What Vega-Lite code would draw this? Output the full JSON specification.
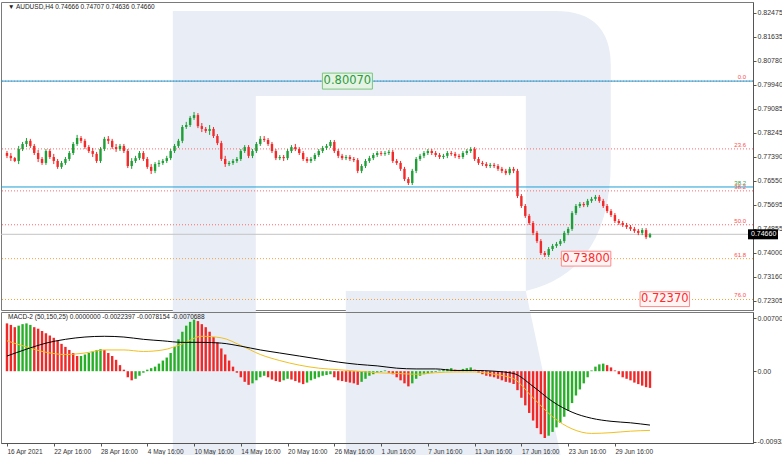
{
"$schema": "https://vega.github.io/schema/vega-lite/v6.json",
"background": "white",
"padding": {"left": 0, "top": 1, "right": 0, "bottom": 0},
"spacing": 2,
"bounds": "flush",
"config": {
  "view": {"stroke": "#7a7a7a", "strokeWidth": 1},
  "font": "Liberation Sans",
  "axis": {"grid": false, "title": null, "labelOverlap": false, "labelBound": false, "labelFont": "Liberation Sans", "labelFontSize": 7, "labelColor": "#333333", "domainColor": "#555555", "tickColor": "#555555", "tickSize": 3}
},
"datasets": {
  "c": [{"i":0,"o":0.7753,"h":0.7760,"l":0.7735,"c":0.7743},{"i":2,"o":0.7743,"h":0.7753,"l":0.7725,"c":0.7735},{"i":4,"o":0.7735,"h":0.7739,"l":0.7721,"c":0.7725},{"i":6,"o":0.7725,"h":0.7778,"l":0.7714,"c":0.7767},{"i":8,"o":0.7767,"h":0.7792,"l":0.7760,"c":0.7785},{"i":10,"o":0.7785,"h":0.7806,"l":0.7774,"c":0.7796},{"i":12,"o":0.7796,"h":0.7803,"l":0.7771,"c":0.7778},{"i":14,"o":0.7778,"h":0.7785,"l":0.7746,"c":0.7753},{"i":16,"o":0.7753,"h":0.7764,"l":0.7721,"c":0.7732},{"i":18,"o":0.7732,"h":0.7739,"l":0.7711,"c":0.7718},{"i":20,"o":0.7718,"h":0.7767,"l":0.7711,"c":0.7760},{"i":22,"o":0.7760,"h":0.7767,"l":0.7732,"c":0.7739},{"i":24,"o":0.7739,"h":0.7750,"l":0.7714,"c":0.7725},{"i":26,"o":0.7725,"h":0.7732,"l":0.7697,"c":0.7704},{"i":28,"o":0.7704,"h":0.7725,"l":0.7697,"c":0.7718},{"i":30,"o":0.7718,"h":0.7739,"l":0.7711,"c":0.7732},{"i":32,"o":0.7732,"h":0.7760,"l":0.7725,"c":0.7753},{"i":34,"o":0.7753,"h":0.7792,"l":0.7746,"c":0.7785},{"i":36,"o":0.7785,"h":0.7817,"l":0.7778,"c":0.7806},{"i":38,"o":0.7806,"h":0.7813,"l":0.7788,"c":0.7796},{"i":40,"o":0.7796,"h":0.7803,"l":0.7767,"c":0.7774},{"i":42,"o":0.7774,"h":0.7781,"l":0.7753,"c":0.7760},{"i":44,"o":0.7760,"h":0.7771,"l":0.7739,"c":0.7750},{"i":46,"o":0.7750,"h":0.7757,"l":0.7718,"c":0.7725},{"i":48,"o":0.7725,"h":0.7774,"l":0.7718,"c":0.7767},{"i":50,"o":0.7767,"h":0.7810,"l":0.7760,"c":0.7803},{"i":52,"o":0.7803,"h":0.7813,"l":0.7785,"c":0.7796},{"i":54,"o":0.7796,"h":0.7803,"l":0.7767,"c":0.7774},{"i":56,"o":0.7774,"h":0.7785,"l":0.7757,"c":0.7767},{"i":58,"o":0.7767,"h":0.7785,"l":0.7760,"c":0.7778},{"i":60,"o":0.7778,"h":0.7785,"l":0.7753,"c":0.7760},{"i":62,"o":0.7760,"h":0.7767,"l":0.7700,"c":0.7707},{"i":64,"o":0.7707,"h":0.7735,"l":0.7697,"c":0.7725},{"i":66,"o":0.7725,"h":0.7743,"l":0.7718,"c":0.7735},{"i":68,"o":0.7735,"h":0.7760,"l":0.7728,"c":0.7753},{"i":70,"o":0.7753,"h":0.7760,"l":0.7725,"c":0.7732},{"i":72,"o":0.7732,"h":0.7739,"l":0.7697,"c":0.7704},{"i":74,"o":0.7704,"h":0.7714,"l":0.7679,"c":0.7690},{"i":76,"o":0.7690,"h":0.7721,"l":0.7682,"c":0.7714},{"i":78,"o":0.7714,"h":0.7728,"l":0.7704,"c":0.7718},{"i":80,"o":0.7718,"h":0.7732,"l":0.7711,"c":0.7725},{"i":82,"o":0.7725,"h":0.7743,"l":0.7718,"c":0.7735},{"i":84,"o":0.7735,"h":0.7767,"l":0.7728,"c":0.7760},{"i":86,"o":0.7760,"h":0.7785,"l":0.7753,"c":0.7778},{"i":88,"o":0.7778,"h":0.7803,"l":0.7771,"c":0.7796},{"i":90,"o":0.7796,"h":0.7852,"l":0.7788,"c":0.7845},{"i":92,"o":0.7845,"h":0.7863,"l":0.7838,"c":0.7852},{"i":94,"o":0.7852,"h":0.7884,"l":0.7845,"c":0.7877},{"i":96,"o":0.7877,"h":0.7898,"l":0.7870,"c":0.7887},{"i":98,"o":0.7887,"h":0.7894,"l":0.7841,"c":0.7848},{"i":100,"o":0.7848,"h":0.7859,"l":0.7827,"c":0.7838},{"i":102,"o":0.7838,"h":0.7845,"l":0.7824,"c":0.7831},{"i":104,"o":0.7831,"h":0.7852,"l":0.7817,"c":0.7838},{"i":106,"o":0.7838,"h":0.7845,"l":0.7806,"c":0.7813},{"i":108,"o":0.7813,"h":0.7820,"l":0.7781,"c":0.7788},{"i":110,"o":0.7788,"h":0.7796,"l":0.7725,"c":0.7732},{"i":112,"o":0.7732,"h":0.7743,"l":0.7704,"c":0.7714},{"i":114,"o":0.7714,"h":0.7725,"l":0.7707,"c":0.7718},{"i":116,"o":0.7718,"h":0.7732,"l":0.7711,"c":0.7725},{"i":118,"o":0.7725,"h":0.7739,"l":0.7718,"c":0.7732},{"i":120,"o":0.7732,"h":0.7767,"l":0.7725,"c":0.7760},{"i":122,"o":0.7760,"h":0.7781,"l":0.7753,"c":0.7774},{"i":124,"o":0.7774,"h":0.7781,"l":0.7735,"c":0.7743},{"i":126,"o":0.7743,"h":0.7767,"l":0.7735,"c":0.7760},{"i":128,"o":0.7760,"h":0.7792,"l":0.7753,"c":0.7785},{"i":130,"o":0.7785,"h":0.7813,"l":0.7778,"c":0.7803},{"i":132,"o":0.7803,"h":0.7813,"l":0.7792,"c":0.7799},{"i":134,"o":0.7799,"h":0.7806,"l":0.7778,"c":0.7785},{"i":136,"o":0.7785,"h":0.7792,"l":0.7753,"c":0.7760},{"i":138,"o":0.7760,"h":0.7767,"l":0.7728,"c":0.7735},{"i":140,"o":0.7735,"h":0.7746,"l":0.7728,"c":0.7739},{"i":142,"o":0.7739,"h":0.7746,"l":0.7725,"c":0.7735},{"i":144,"o":0.7735,"h":0.7767,"l":0.7728,"c":0.7760},{"i":146,"o":0.7760,"h":0.7781,"l":0.7753,"c":0.7774},{"i":148,"o":0.7774,"h":0.7785,"l":0.7760,"c":0.7767},{"i":150,"o":0.7767,"h":0.7774,"l":0.7746,"c":0.7753},{"i":152,"o":0.7753,"h":0.7760,"l":0.7725,"c":0.7732},{"i":154,"o":0.7732,"h":0.7739,"l":0.7718,"c":0.7725},{"i":156,"o":0.7725,"h":0.7739,"l":0.7718,"c":0.7732},{"i":158,"o":0.7732,"h":0.7753,"l":0.7725,"c":0.7746},{"i":160,"o":0.7746,"h":0.7767,"l":0.7739,"c":0.7760},{"i":162,"o":0.7760,"h":0.7778,"l":0.7753,"c":0.7771},{"i":164,"o":0.7771,"h":0.7785,"l":0.7764,"c":0.7778},{"i":166,"o":0.7778,"h":0.7799,"l":0.7771,"c":0.7792},{"i":168,"o":0.7792,"h":0.7799,"l":0.7753,"c":0.7760},{"i":170,"o":0.7760,"h":0.7767,"l":0.7735,"c":0.7743},{"i":172,"o":0.7743,"h":0.7750,"l":0.7728,"c":0.7735},{"i":174,"o":0.7735,"h":0.7746,"l":0.7728,"c":0.7739},{"i":176,"o":0.7739,"h":0.7746,"l":0.7725,"c":0.7732},{"i":178,"o":0.7732,"h":0.7739,"l":0.7721,"c":0.7728},{"i":180,"o":0.7728,"h":0.7735,"l":0.7682,"c":0.7690},{"i":182,"o":0.7690,"h":0.7714,"l":0.7682,"c":0.7707},{"i":184,"o":0.7707,"h":0.7732,"l":0.7700,"c":0.7725},{"i":186,"o":0.7725,"h":0.7743,"l":0.7718,"c":0.7735},{"i":188,"o":0.7735,"h":0.7753,"l":0.7728,"c":0.7746},{"i":190,"o":0.7746,"h":0.7760,"l":0.7739,"c":0.7753},{"i":192,"o":0.7753,"h":0.7760,"l":0.7743,"c":0.7750},{"i":194,"o":0.7750,"h":0.7760,"l":0.7743,"c":0.7753},{"i":196,"o":0.7753,"h":0.7764,"l":0.7746,"c":0.7757},{"i":198,"o":0.7757,"h":0.7764,"l":0.7718,"c":0.7725},{"i":200,"o":0.7725,"h":0.7732,"l":0.7711,"c":0.7718},{"i":202,"o":0.7718,"h":0.7725,"l":0.7690,"c":0.7697},{"i":204,"o":0.7697,"h":0.7704,"l":0.7654,"c":0.7661},{"i":206,"o":0.7661,"h":0.7668,"l":0.7640,"c":0.7647},{"i":208,"o":0.7647,"h":0.7697,"l":0.7640,"c":0.7690},{"i":210,"o":0.7690,"h":0.7739,"l":0.7682,"c":0.7732},{"i":212,"o":0.7732,"h":0.7750,"l":0.7725,"c":0.7743},{"i":214,"o":0.7743,"h":0.7760,"l":0.7735,"c":0.7753},{"i":216,"o":0.7753,"h":0.7767,"l":0.7746,"c":0.7760},{"i":218,"o":0.7760,"h":0.7767,"l":0.7746,"c":0.7753},{"i":220,"o":0.7753,"h":0.7760,"l":0.7739,"c":0.7746},{"i":222,"o":0.7746,"h":0.7753,"l":0.7732,"c":0.7739},{"i":224,"o":0.7739,"h":0.7750,"l":0.7732,"c":0.7743},{"i":226,"o":0.7743,"h":0.7760,"l":0.7735,"c":0.7753},{"i":228,"o":0.7753,"h":0.7760,"l":0.7743,"c":0.7750},{"i":230,"o":0.7750,"h":0.7757,"l":0.7735,"c":0.7743},{"i":232,"o":0.7743,"h":0.7750,"l":0.7732,"c":0.7739},{"i":234,"o":0.7739,"h":0.7760,"l":0.7732,"c":0.7753},{"i":236,"o":0.7753,"h":0.7767,"l":0.7746,"c":0.7760},{"i":238,"o":0.7760,"h":0.7774,"l":0.7753,"c":0.7767},{"i":240,"o":0.7767,"h":0.7774,"l":0.7725,"c":0.7732},{"i":242,"o":0.7732,"h":0.7739,"l":0.7711,"c":0.7718},{"i":244,"o":0.7718,"h":0.7725,"l":0.7707,"c":0.7714},{"i":246,"o":0.7714,"h":0.7721,"l":0.7700,"c":0.7707},{"i":248,"o":0.7707,"h":0.7718,"l":0.7700,"c":0.7711},{"i":250,"o":0.7711,"h":0.7718,"l":0.7700,"c":0.7707},{"i":252,"o":0.7707,"h":0.7714,"l":0.7690,"c":0.7697},{"i":254,"o":0.7697,"h":0.7704,"l":0.7682,"c":0.7690},{"i":256,"o":0.7690,"h":0.7697,"l":0.7675,"c":0.7682},{"i":258,"o":0.7682,"h":0.7704,"l":0.7675,"c":0.7697},{"i":260,"o":0.7697,"h":0.7704,"l":0.7682,"c":0.7690},{"i":262,"o":0.7690,"h":0.7697,"l":0.7594,"c":0.7601},{"i":264,"o":0.7601,"h":0.7608,"l":0.7559,"c":0.7566},{"i":266,"o":0.7566,"h":0.7573,"l":0.7524,"c":0.7531},{"i":268,"o":0.7531,"h":0.7538,"l":0.7499,"c":0.7506},{"i":270,"o":0.7506,"h":0.7513,"l":0.7463,"c":0.7471},{"i":272,"o":0.7471,"h":0.7478,"l":0.7435,"c":0.7442},{"i":274,"o":0.7442,"h":0.7449,"l":0.7393,"c":0.7400},{"i":276,"o":0.7400,"h":0.7407,"l":0.7386,"c":0.7393},{"i":278,"o":0.7393,"h":0.7421,"l":0.7386,"c":0.7414},{"i":280,"o":0.7414,"h":0.7432,"l":0.7407,"c":0.7425},{"i":282,"o":0.7425,"h":0.7439,"l":0.7418,"c":0.7432},{"i":284,"o":0.7432,"h":0.7449,"l":0.7425,"c":0.7442},{"i":286,"o":0.7442,"h":0.7478,"l":0.7435,"c":0.7471},{"i":288,"o":0.7471,"h":0.7492,"l":0.7463,"c":0.7485},{"i":290,"o":0.7485,"h":0.7548,"l":0.7478,"c":0.7541},{"i":292,"o":0.7541,"h":0.7573,"l":0.7534,"c":0.7566},{"i":294,"o":0.7566,"h":0.7580,"l":0.7559,"c":0.7573},{"i":296,"o":0.7573,"h":0.7580,"l":0.7562,"c":0.7569},{"i":298,"o":0.7569,"h":0.7591,"l":0.7562,"c":0.7584},{"i":300,"o":0.7584,"h":0.7598,"l":0.7577,"c":0.7591},{"i":302,"o":0.7591,"h":0.7605,"l":0.7584,"c":0.7598},{"i":304,"o":0.7598,"h":0.7605,"l":0.7577,"c":0.7584},{"i":306,"o":0.7584,"h":0.7591,"l":0.7559,"c":0.7566},{"i":308,"o":0.7566,"h":0.7573,"l":0.7541,"c":0.7548},{"i":310,"o":0.7548,"h":0.7555,"l":0.7527,"c":0.7534},{"i":312,"o":0.7534,"h":0.7541,"l":0.7506,"c":0.7513},{"i":314,"o":0.7513,"h":0.7520,"l":0.7499,"c":0.7506},{"i":316,"o":0.7506,"h":0.7513,"l":0.7492,"c":0.7499},{"i":318,"o":0.7499,"h":0.7506,"l":0.7485,"c":0.7492},{"i":320,"o":0.7492,"h":0.7499,"l":0.7478,"c":0.7485},{"i":322,"o":0.7485,"h":0.7492,"l":0.7471,"c":0.7478},{"i":324,"o":0.7478,"h":0.7485,"l":0.7463,"c":0.7471},{"i":326,"o":0.7471,"h":0.7488,"l":0.7463,"c":0.7481},{"i":328,"o":0.7481,"h":0.7488,"l":0.7449,"c":0.7456},{"i":330,"o":0.7456,"h":0.7471,"l":0.7453,"c":0.7466}],
  "hist": [{"i":0,"m":0.0063,"d":"d"},{"i":2,"m":0.0061,"d":"d"},{"i":4,"m":0.0058,"d":"d"},{"i":6,"m":0.0060,"d":"u"},{"i":8,"m":0.0062,"d":"u"},{"i":10,"m":0.0063,"d":"u"},{"i":12,"m":0.0061,"d":"u"},{"i":14,"m":0.0058,"d":"d"},{"i":16,"m":0.0056,"d":"d"},{"i":18,"m":0.0053,"d":"d"},{"i":20,"m":0.0050,"d":"d"},{"i":22,"m":0.0047,"d":"d"},{"i":24,"m":0.0044,"d":"d"},{"i":26,"m":0.0040,"d":"d"},{"i":28,"m":0.0036,"d":"d"},{"i":30,"m":0.0032,"d":"d"},{"i":32,"m":0.0028,"d":"d"},{"i":34,"m":0.0024,"d":"d"},{"i":36,"m":0.0020,"d":"d"},{"i":38,"m":0.0020,"d":"u"},{"i":40,"m":0.0022,"d":"u"},{"i":42,"m":0.0024,"d":"u"},{"i":44,"m":0.0026,"d":"u"},{"i":46,"m":0.0028,"d":"u"},{"i":48,"m":0.0029,"d":"u"},{"i":50,"m":0.0028,"d":"d"},{"i":52,"m":0.0024,"d":"d"},{"i":54,"m":0.0020,"d":"d"},{"i":56,"m":0.0015,"d":"d"},{"i":58,"m":0.0008,"d":"d"},{"i":60,"m":0.0002,"d":"d"},{"i":62,"m":-0.0008,"d":"d"},{"i":64,"m":-0.0012,"d":"d"},{"i":66,"m":-0.0010,"d":"u"},{"i":68,"m":-0.0006,"d":"u"},{"i":70,"m":-0.0002,"d":"u"},{"i":72,"m":0.0002,"d":"u"},{"i":74,"m":0.0004,"d":"u"},{"i":76,"m":0.0006,"d":"u"},{"i":78,"m":0.0010,"d":"u"},{"i":80,"m":0.0014,"d":"u"},{"i":82,"m":0.0018,"d":"u"},{"i":84,"m":0.0024,"d":"u"},{"i":86,"m":0.0032,"d":"u"},{"i":88,"m":0.0042,"d":"u"},{"i":90,"m":0.0052,"d":"u"},{"i":92,"m":0.0060,"d":"u"},{"i":94,"m":0.0065,"d":"u"},{"i":96,"m":0.0068,"d":"u"},{"i":98,"m":0.0066,"d":"d"},{"i":100,"m":0.0062,"d":"d"},{"i":102,"m":0.0058,"d":"d"},{"i":104,"m":0.0052,"d":"d"},{"i":106,"m":0.0045,"d":"d"},{"i":108,"m":0.0038,"d":"d"},{"i":110,"m":0.0030,"d":"d"},{"i":112,"m":0.0022,"d":"d"},{"i":114,"m":0.0014,"d":"d"},{"i":116,"m":0.0006,"d":"d"},{"i":118,"m":-0.0002,"d":"d"},{"i":120,"m":-0.0008,"d":"d"},{"i":122,"m":-0.0014,"d":"d"},{"i":124,"m":-0.0018,"d":"d"},{"i":126,"m":-0.0016,"d":"u"},{"i":128,"m":-0.0012,"d":"u"},{"i":130,"m":-0.0008,"d":"u"},{"i":132,"m":-0.0006,"d":"u"},{"i":134,"m":-0.0008,"d":"d"},{"i":136,"m":-0.0011,"d":"d"},{"i":138,"m":-0.0013,"d":"d"},{"i":140,"m":-0.0014,"d":"d"},{"i":142,"m":-0.0012,"d":"u"},{"i":144,"m":-0.0010,"d":"u"},{"i":146,"m":-0.0011,"d":"d"},{"i":148,"m":-0.0013,"d":"d"},{"i":150,"m":-0.0015,"d":"d"},{"i":152,"m":-0.0017,"d":"d"},{"i":154,"m":-0.0015,"d":"u"},{"i":156,"m":-0.0012,"d":"u"},{"i":158,"m":-0.0010,"d":"u"},{"i":160,"m":-0.0008,"d":"u"},{"i":162,"m":-0.0006,"d":"u"},{"i":164,"m":-0.0005,"d":"u"},{"i":166,"m":-0.0004,"d":"u"},{"i":168,"m":-0.0008,"d":"d"},{"i":170,"m":-0.0012,"d":"d"},{"i":172,"m":-0.0013,"d":"d"},{"i":174,"m":-0.0014,"d":"d"},{"i":176,"m":-0.0015,"d":"d"},{"i":178,"m":-0.0016,"d":"d"},{"i":180,"m":-0.0018,"d":"d"},{"i":182,"m":-0.0014,"d":"u"},{"i":184,"m":-0.0010,"d":"u"},{"i":186,"m":-0.0006,"d":"u"},{"i":188,"m":-0.0004,"d":"u"},{"i":190,"m":-0.0002,"d":"u"},{"i":192,"m":-0.0001,"d":"u"},{"i":194,"m":0.0001,"d":"u"},{"i":196,"m":-0.0002,"d":"d"},{"i":198,"m":-0.0004,"d":"d"},{"i":200,"m":-0.0008,"d":"d"},{"i":202,"m":-0.0012,"d":"d"},{"i":204,"m":-0.0016,"d":"d"},{"i":206,"m":-0.0020,"d":"d"},{"i":208,"m":-0.0016,"d":"u"},{"i":210,"m":-0.0010,"d":"u"},{"i":212,"m":-0.0006,"d":"u"},{"i":214,"m":-0.0004,"d":"u"},{"i":216,"m":-0.0003,"d":"u"},{"i":218,"m":-0.0002,"d":"u"},{"i":220,"m":-0.0001,"d":"u"},{"i":222,"m":0.0001,"d":"u"},{"i":224,"m":0.0002,"d":"u"},{"i":226,"m":0.0003,"d":"u"},{"i":228,"m":0.0004,"d":"u"},{"i":230,"m":0.0002,"d":"d"},{"i":232,"m":0.0001,"d":"d"},{"i":234,"m":0.0003,"d":"u"},{"i":236,"m":0.0004,"d":"u"},{"i":238,"m":0.0005,"d":"u"},{"i":240,"m":0.0002,"d":"d"},{"i":242,"m":-0.0002,"d":"d"},{"i":244,"m":-0.0004,"d":"d"},{"i":246,"m":-0.0006,"d":"d"},{"i":248,"m":-0.0007,"d":"d"},{"i":250,"m":-0.0008,"d":"d"},{"i":252,"m":-0.0010,"d":"d"},{"i":254,"m":-0.0012,"d":"d"},{"i":256,"m":-0.0014,"d":"d"},{"i":258,"m":-0.0015,"d":"d"},{"i":260,"m":-0.0017,"d":"d"},{"i":262,"m":-0.0025,"d":"d"},{"i":264,"m":-0.0035,"d":"d"},{"i":266,"m":-0.0045,"d":"d"},{"i":268,"m":-0.0055,"d":"d"},{"i":270,"m":-0.0065,"d":"d"},{"i":272,"m":-0.0075,"d":"d"},{"i":274,"m":-0.0083,"d":"d"},{"i":276,"m":-0.0088,"d":"d"},{"i":278,"m":-0.0085,"d":"u"},{"i":280,"m":-0.0080,"d":"u"},{"i":282,"m":-0.0074,"d":"u"},{"i":284,"m":-0.0068,"d":"u"},{"i":286,"m":-0.0060,"d":"u"},{"i":288,"m":-0.0052,"d":"u"},{"i":290,"m":-0.0042,"d":"u"},{"i":292,"m":-0.0032,"d":"u"},{"i":294,"m":-0.0024,"d":"u"},{"i":296,"m":-0.0016,"d":"u"},{"i":298,"m":-0.0008,"d":"u"},{"i":300,"m":0.0001,"d":"u"},{"i":302,"m":0.0006,"d":"u"},{"i":304,"m":0.0009,"d":"u"},{"i":306,"m":0.0010,"d":"u"},{"i":308,"m":0.0008,"d":"d"},{"i":310,"m":0.0005,"d":"d"},{"i":312,"m":0.0001,"d":"d"},{"i":314,"m":-0.0004,"d":"d"},{"i":316,"m":-0.0008,"d":"d"},{"i":318,"m":-0.0010,"d":"d"},{"i":320,"m":-0.0012,"d":"d"},{"i":322,"m":-0.0015,"d":"d"},{"i":324,"m":-0.0017,"d":"d"},{"i":326,"m":-0.0019,"d":"d"},{"i":328,"m":-0.0021,"d":"d"},{"i":330,"m":-0.0022,"d":"d"}],
  "ln": [{"i":0,"k":0.0020,"s":0.0040},{"i":10,"k":0.0029,"s":0.0032},{"i":20,"k":0.0037,"s":0.0025},{"i":30,"k":0.0042,"s":0.0022},{"i":40,"k":0.0045,"s":0.0024},{"i":50,"k":0.0046,"s":0.0028},{"i":60,"k":0.0045,"s":0.0028},{"i":70,"k":0.0042,"s":0.0026},{"i":80,"k":0.0040,"s":0.0028},{"i":90,"k":0.0038,"s":0.0036},{"i":100,"k":0.0038,"s":0.0046},{"i":110,"k":0.0037,"s":0.0044},{"i":120,"k":0.0033,"s":0.0034},{"i":130,"k":0.0028,"s":0.0022},{"i":140,"k":0.0024,"s":0.0014},{"i":150,"k":0.0020,"s":0.0008},{"i":160,"k":0.0016,"s":0.0004},{"i":170,"k":0.0012,"s":0.0002},{"i":180,"k":0.0009,"s":0.0000},{"i":190,"k":0.0007,"s":-0.0002},{"i":200,"k":0.0004,"s":-0.0003},{"i":210,"k":0.0003,"s":-0.0004},{"i":220,"k":0.0003,"s":-0.0002},{"i":230,"k":0.0001,"s":-0.0001},{"i":240,"k":0.0001,"s":-0.0001},{"i":250,"k":0.0000,"s":-0.0004},{"i":260,"k":-0.0003,"s":-0.0010},{"i":270,"k":-0.0020,"s":-0.0035},{"i":280,"k":-0.0040,"s":-0.0060},{"i":290,"k":-0.0054,"s":-0.0076},{"i":300,"k":-0.0062,"s":-0.0082},{"i":310,"k":-0.0066,"s":-0.0081},{"i":320,"k":-0.0068,"s":-0.0079},{"i":330,"k":-0.0071,"s":-0.0078}],
  "fib": [{"lvl":"0.0","p":0.8007},{"lvl":"23.6","p":0.77676},{"lvl":"38.2","p":0.76194},{"lvl":"50.0","p":0.74997},{"lvl":"61.8","p":0.738},{"lvl":"76.0","p":0.72359}],
  "blue": [{"p":0.8007},{"p":0.76331}],
  "fib2": [{"lvl":"38.2","p":0.76331}],
  "last": [{"t":"0.74660","p":0.7466}],
  "tgtG": [{"t":"0.80070","p":0.8007}],
  "tgtR1": [{"t":"0.73800","p":0.738}],
  "tgtR2": [{"t":"0.72370","p":0.7237}],
  "head": [{"t":"▼ AUDUSD,H4  0.74666 0.74707 0.74636 0.74660"}],
  "head2": [{"t":"MACD-2 (50,150,25) 0.0000000 -0.0022397 -0.0078154 -0.0070688"}],
  "logo": [{"n":"R"}]
},
"vconcat": [
{
  "width": 752, "height": 308,
  "layer": [
    {"data": {"name": "logo"}, "mark": {"type": "point", "shape": "M-219,-222H-136V223H-219ZM-136,-222H164Q219,-222 219,-167V-72Q219,38 134,58V-137H-136ZM-46,58H134L169,223H-46Z", "size": 4, "filled": true, "fill": "#e9eef6", "strokeWidth": 0, "opacity": 1, "clip": false},
     "encoding": {
       "x": {"datum": 197.5, "type": "quantitative", "scale": {"domain": [-0.5, 380.3], "nice": false, "zero": false}, "axis": null},
       "y": {"datum": 0.74706, "type": "quantitative", "scale": {"domain": [0.71987, 0.82863], "nice": false, "zero": false}}}},
    {"data": {"name": "fib"}, "mark": {"type": "rule", "strokeDash": [1, 2], "strokeWidth": 1},
     "encoding": {"y": {"field": "p", "type": "quantitative", "scale": {"domain": [0.71987, 0.82863], "nice": false, "zero": false}},
       "color": {"condition": {"test": "datum.p < 0.745", "value": "#f2a03c"}, "value": "#ff6a6a"}}},
    {"data": {"name": "blue"}, "mark": {"type": "rule", "strokeWidth": 1, "color": "#1c9fd6"},
     "encoding": {"y": {"field": "p", "type": "quantitative", "scale": {"domain": [0.71987, 0.82863], "nice": false, "zero": false}}}},
    {"data": {"name": "last"}, "mark": {"type": "rule", "strokeWidth": 1, "color": "#c4c4c4"},
     "encoding": {"y": {"field": "p", "type": "quantitative", "scale": {"domain": [0.71987, 0.82863], "nice": false, "zero": false}}}},
    {"data": {"name": "c"}, "mark": {"type": "rule", "strokeWidth": 1},
     "encoding": {
       "x": {"field": "i", "type": "quantitative", "scale": {"domain": [-0.5, 380.3], "nice": false, "zero": false}, "axis": null},
       "y": {"field": "l", "type": "quantitative", "scale": {"domain": [0.71987, 0.82863], "nice": false, "zero": false},
             "axis": {"orient": "right", "title": null, "values": [0.82475, 0.81635, 0.8078, 0.7994, 0.79085, 0.78245, 0.7739, 0.7655, 0.75695, 0.74855, 0.74, 0.7316, 0.72305], "tickCount": 30, "format": ".5f", "tickSize": 3, "labelPadding": 1, "labelFontSize": 7, "labelOverlap": false, "labelBound": false, "grid": false}},
       "y2": {"field": "h"},
       "color": {"condition": {"test": "datum.c >= datum.o", "value": "#1e9e36"}, "value": "#f22a2a"}}},
    {"data": {"name": "c"}, "mark": {"type": "bar", "orient": "vertical", "width": 2.4},
     "encoding": {
       "x": {"field": "i", "type": "quantitative", "scale": {"domain": [-0.5, 380.3], "nice": false, "zero": false}, "axis": null},
       "y": {"field": "o", "type": "quantitative", "scale": {"domain": [0.71987, 0.82863], "nice": false, "zero": false}},
       "y2": {"field": "c"},
       "color": {"condition": {"test": "datum.c >= datum.o", "value": "#1e9e36"}, "value": "#f22a2a"}}},
    {"data": {"name": "fib"}, "mark": {"type": "text", "align": "right", "baseline": "bottom", "dx": -2, "dy": -1, "fontSize": 6, "color": "#ff4d4d"},
     "encoding": {
       "x": {"datum": 380.3, "type": "quantitative", "scale": {"domain": [-0.5, 380.3], "nice": false, "zero": false}, "axis": null},
       "y": {"field": "p", "type": "quantitative", "scale": {"domain": [0.71987, 0.82863], "nice": false, "zero": false}},
       "text": {"field": "lvl"}}},
    {"data": {"name": "fib2"}, "mark": {"type": "text", "align": "right", "baseline": "bottom", "dx": -2, "dy": -1, "fontSize": 6, "color": "#3a9a3a"},
     "encoding": {
       "x": {"datum": 380.3, "type": "quantitative", "scale": {"domain": [-0.5, 380.3], "nice": false, "zero": false}, "axis": null},
       "y": {"field": "p", "type": "quantitative", "scale": {"domain": [0.71987, 0.82863], "nice": false, "zero": false}},
       "text": {"field": "lvl"}}},
    {"data": {"name": "tgtG"}, "mark": {"type": "point", "shape": "M-1,-0.32H1V0.32H-1Z", "size": 2500, "filled": true, "fill": "#e4f3e4", "stroke": "#7cc47c", "strokeWidth": 1, "opacity": 1},
     "encoding": {
       "x": {"datum": 174.7, "type": "quantitative", "scale": {"domain": [-0.5, 380.3], "nice": false, "zero": false}, "axis": null},
       "y": {"field": "p", "type": "quantitative", "scale": {"domain": [0.71987, 0.82863], "nice": false, "zero": false}}}},
    {"data": {"name": "tgtG"}, "mark": {"type": "text", "fontSize": 11.5, "font": "DejaVu Sans", "color": "#2c9a3c", "baseline": "middle", "align": "center"},
     "encoding": {
       "x": {"datum": 174.7, "type": "quantitative", "scale": {"domain": [-0.5, 380.3], "nice": false, "zero": false}, "axis": null},
       "y": {"field": "p", "type": "quantitative", "scale": {"domain": [0.71987, 0.82863], "nice": false, "zero": false}},
       "text": {"field": "t"}}},
    {"data": {"name": "tgtR1"}, "mark": {"type": "point", "shape": "M-1,-0.3H1V0.3H-1Z", "size": 2450, "filled": true, "fill": "#fff4f4", "stroke": "#ff8a8a", "strokeWidth": 1, "opacity": 1},
     "encoding": {
       "x": {"datum": 297.2, "type": "quantitative", "scale": {"domain": [-0.5, 380.3], "nice": false, "zero": false}, "axis": null},
       "y": {"field": "p", "type": "quantitative", "scale": {"domain": [0.71987, 0.82863], "nice": false, "zero": false}}}},
    {"data": {"name": "tgtR1"}, "mark": {"type": "text", "fontSize": 11.5, "font": "DejaVu Sans", "color": "#ff2a2a", "baseline": "middle", "align": "center"},
     "encoding": {
       "x": {"datum": 297.2, "type": "quantitative", "scale": {"domain": [-0.5, 380.3], "nice": false, "zero": false}, "axis": null},
       "y": {"field": "p", "type": "quantitative", "scale": {"domain": [0.71987, 0.82863], "nice": false, "zero": false}},
       "text": {"field": "t"}}},
    {"data": {"name": "tgtR2"}, "mark": {"type": "point", "shape": "M-1,-0.3H1V0.3H-1Z", "size": 2450, "filled": true, "fill": "#fff4f4", "stroke": "#ff8a8a", "strokeWidth": 1, "opacity": 1},
     "encoding": {
       "x": {"datum": 337.6, "type": "quantitative", "scale": {"domain": [-0.5, 380.3], "nice": false, "zero": false}, "axis": null},
       "y": {"field": "p", "type": "quantitative", "scale": {"domain": [0.71987, 0.82863], "nice": false, "zero": false}}}},
    {"data": {"name": "tgtR2"}, "mark": {"type": "text", "fontSize": 11.5, "font": "DejaVu Sans", "color": "#ff2a2a", "baseline": "middle", "align": "center"},
     "encoding": {
       "x": {"datum": 337.6, "type": "quantitative", "scale": {"domain": [-0.5, 380.3], "nice": false, "zero": false}, "axis": null},
       "y": {"field": "p", "type": "quantitative", "scale": {"domain": [0.71987, 0.82863], "nice": false, "zero": false}},
       "text": {"field": "t"}}},
    {"data": {"name": "last"}, "mark": {"type": "point", "shape": "M0,-1H6V1H0Z", "size": 100, "filled": true, "fill": "#000000", "strokeWidth": 0, "opacity": 1, "clip": false},
     "encoding": {
       "x": {"datum": 380.3, "type": "quantitative", "scale": {"domain": [-0.5, 380.3], "nice": false, "zero": false}, "axis": null},
       "y": {"field": "p", "type": "quantitative", "scale": {"domain": [0.71987, 0.82863], "nice": false, "zero": false}}}},
    {"data": {"name": "last"}, "mark": {"type": "text", "align": "left", "baseline": "middle", "dx": 3, "fontSize": 7, "color": "#ffffff", "clip": false},
     "encoding": {
       "x": {"datum": 380.3, "type": "quantitative", "scale": {"domain": [-0.5, 380.3], "nice": false, "zero": false}, "axis": null},
       "y": {"field": "p", "type": "quantitative", "scale": {"domain": [0.71987, 0.82863], "nice": false, "zero": false}},
       "text": {"field": "t"}}},
    {"data": {"name": "head"}, "mark": {"type": "text", "align": "left", "baseline": "top", "dx": 2, "dy": 2, "fontSize": 6.5, "color": "#222222"},
     "encoding": {
       "x": {"datum": -0.5, "type": "quantitative", "scale": {"domain": [-0.5, 380.3], "nice": false, "zero": false}, "axis": null},
       "y": {"datum": 0.82863, "type": "quantitative", "scale": {"domain": [0.71987, 0.82863], "nice": false, "zero": false}},
       "text": {"field": "t"}}}
  ]
},
{
  "width": 752, "height": 131,
  "layer": [
    {"data": {"name": "hist"}, "mark": {"type": "bar", "orient": "vertical", "width": 2.4},
     "encoding": {
       "x": {"field": "i", "type": "quantitative", "scale": {"domain": [-0.5, 380.3], "nice": false, "zero": false},
             "axis": {"orient": "bottom", "title": null, "values": [0, 24, 48, 72, 96, 120, 144, 168, 192, 216, 240, 264, 288, 312], "tickCount": 30,
                      "labelExpr": "['16 Apr 2021','22 Apr 16:00','28 Apr 16:00','4 May 16:00','10 May 16:00','14 May 16:00','20 May 16:00','26 May 16:00','1 Jun 16:00','7 Jun 16:00','11 Jun 16:00','17 Jun 16:00','23 Jun 16:00','29 Jun 16:00'][round(datum.value/24)]",
                      "labelAlign": "left", "labelPadding": 2, "tickSize": 3, "labelOverlap": false, "labelFlush": false, "labelFontSize": 6.5, "grid": false}},
       "y": {"field": "m", "type": "quantitative", "scale": {"domain": [-0.00946, 0.0078], "nice": false, "zero": false},
             "axis": {"orient": "right", "title": null, "values": [0.0070066, 0, -0.009327],
                      "labelExpr": "datum.value == 0 ? '0.00' : (datum.value > 0 ? '0.0070066' : '-0.009327')", "tickSize": 3, "labelPadding": 1, "labelFontSize": 7, "labelOverlap": false, "labelBound": false, "grid": false}},
       "y2": {"datum": 0},
       "color": {"field": "d", "type": "nominal", "scale": {"domain": ["u", "d"], "range": ["#27b027", "#f02828"]}, "legend": null}}},
    {"data": {"name": "ln"}, "mark": {"type": "line", "color": "#f0c020", "strokeWidth": 1, "interpolate": "monotone"},
     "encoding": {
       "x": {"field": "i", "type": "quantitative", "scale": {"domain": [-0.5, 380.3], "nice": false, "zero": false}},
       "y": {"field": "s", "type": "quantitative", "scale": {"domain": [-0.00946, 0.0078], "nice": false, "zero": false}}}},
    {"data": {"name": "ln"}, "mark": {"type": "line", "color": "#000000", "strokeWidth": 1, "interpolate": "monotone"},
     "encoding": {
       "x": {"field": "i", "type": "quantitative", "scale": {"domain": [-0.5, 380.3], "nice": false, "zero": false}},
       "y": {"field": "k", "type": "quantitative", "scale": {"domain": [-0.00946, 0.0078], "nice": false, "zero": false}}}},
    {"data": {"name": "head2"}, "mark": {"type": "text", "align": "left", "baseline": "top", "dx": 2, "dy": 2, "fontSize": 6.5, "color": "#222222"},
     "encoding": {
       "x": {"datum": -0.5, "type": "quantitative", "scale": {"domain": [-0.5, 380.3], "nice": false, "zero": false}},
       "y": {"datum": 0.0078, "type": "quantitative", "scale": {"domain": [-0.00946, 0.0078], "nice": false, "zero": false}},
       "text": {"field": "t"}}}
  ]
}
]
}
